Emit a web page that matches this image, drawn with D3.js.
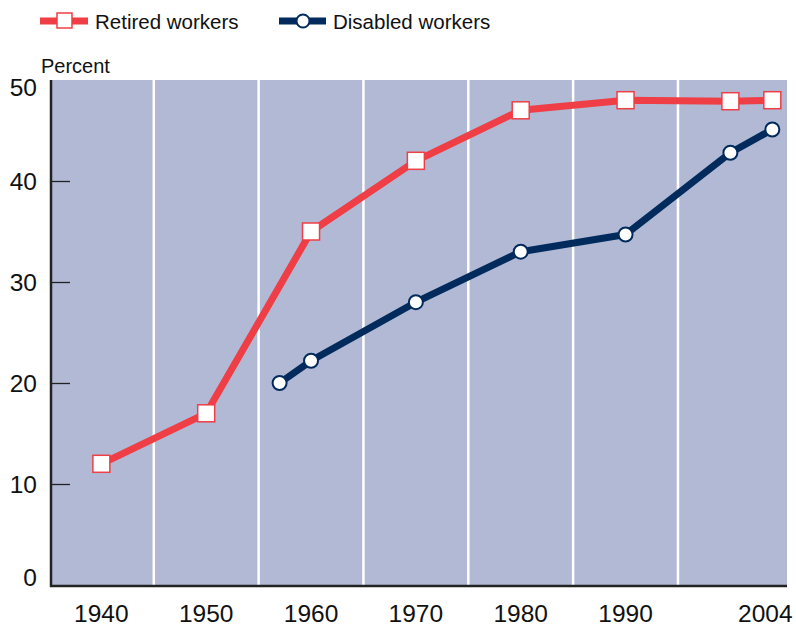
<!DOCTYPE html>
<html>
<head>
<meta charset="utf-8">
<script src="https://cdn.jsdelivr.net/npm/d3@7"></script>
<style>
  body { margin: 0; background: #fff; }
  text { font-family: "Liberation Sans", Arial, Helvetica, sans-serif; fill: #111; }
</style>
</head>
<body>
<script>
// values
var retiredYears = [1940, 1950, 1960, 1970, 1980, 1990, 2000, 2004];
var retiredValues = [12, 17, 35, 42, 47, 48, 47.9, 48];
var disabledYears = [1957, 1960, 1970, 1980, 1990, 2000, 2004];
var disabledValues = [20, 22.2, 28, 33, 34.7, 42.8, 45.1];
var xTickYears = [1940, 1950, 1960, 1970, 1980, 1990, 2004];
var yTicks = [0, 10, 20, 30, 40, 50];
var dividerYears = [1945, 1955, 1965, 1975, 1985, 1995];

var width = 796, height = 626;
var margin = {top: 80, right: 9, bottom: 41, left: 50};

var red = "#ef3e45", navy = "#002b5c", bg = "#b1b9d4";

var svg = d3.select("body").append("svg")
    .attr("width", width)
    .attr("height", height);

// plot spans a bit past the first and last years
var x = d3.scaleLinear()
    .domain([1935.1, 2005.4])
    .range([margin.left, width - margin.right]);

var y = d3.scaleLinear()
    .domain([0, 50])
    .range([height - margin.bottom, margin.top]);

// plot background
svg.append("rect")
    .attr("x", x.range()[0])
    .attr("y", y(50))
    .attr("width", x.range()[1] - x.range()[0])
    .attr("height", y(0) - y(50))
    .attr("fill", bg);

// white dividers between decades
svg.append("g").selectAll("line")
    .data(dividerYears)
  .enter().append("line")
    .attr("x1", function(d) { return x(d); })
    .attr("x2", function(d) { return x(d); })
    .attr("y1", y(50))
    .attr("y2", y(0))
    .attr("stroke", "#fff")
    .attr("stroke-width", 2.5);

// y axis: short inward ticks
var yAxis = svg.append("g")
    .attr("transform", "translate(" + (x.range()[0] + 1) + ",0)")
    .call(d3.axisRight(y).tickValues(yTicks.slice(1, 5)).tickSize(19).tickFormat(""));
yAxis.select(".domain").remove();
yAxis.selectAll(".tick line").attr("stroke", "#222").attr("stroke-width", 1.3);

svg.append("line")
    .attr("x1", x.range()[0] + 1).attr("x2", x.range()[0] + 1)
    .attr("y1", y(50)).attr("y2", y(0) + 2)
    .attr("stroke", "#222").attr("stroke-width", 2.5);

// x axis line
svg.append("line")
    .attr("x1", x.range()[0]).attr("x2", x.range()[1])
    .attr("y1", y(0) + 1).attr("y2", y(0) + 1)
    .attr("stroke", "#222").attr("stroke-width", 2.5);

// y tick labels (0 and 50 nudged inside like the original)
svg.append("g").selectAll("text")
    .data(yTicks)
  .enter().append("text")
    .attr("x", 37)
    .attr("y", function(d) {
      var shift = d === 0 ? -8 : (d === 50 ? 7 : 0);
      return y(d) + shift;
    })
    .attr("dy", "0.35em")
    .attr("text-anchor", "end")
    .style("font-size", "24.5px")
    .text(function(d) { return d; });

svg.append("text")
    .attr("x", 41)
    .attr("y", 73)
    .style("font-size", "20px")
    .text("Percent");

// x tick labels
svg.append("g").selectAll("text")
    .data(xTickYears)
  .enter().append("text")
    .attr("x", function(d) { return d === 2004 ? x(d) - 7 : x(d); })
    .attr("y", 622)
    .attr("text-anchor", "middle")
    .style("font-size", "24.5px")
    .text(function(d) { return d; });

var line = d3.line()
    .x(function(d) { return x(d[0]); })
    .y(function(d) { return y(d[1]); });

var retired = d3.zip(retiredYears, retiredValues);
var disabled = d3.zip(disabledYears, disabledValues);

svg.append("path")
    .datum(retired)
    .attr("d", line)
    .attr("fill", "none")
    .attr("stroke", red)
    .attr("stroke-width", 7)
    .attr("stroke-linejoin", "round");

svg.append("path")
    .datum(disabled)
    .attr("d", line)
    .attr("fill", "none")
    .attr("stroke", navy)
    .attr("stroke-width", 7)
    .attr("stroke-linejoin", "round");

svg.append("g").selectAll("rect")
    .data(retired)
  .enter().append("rect")
    .attr("x", function(d) { return x(d[0]) - 8.5; })
    .attr("y", function(d) { return y(d[1]) - 8.5; })
    .attr("width", 17)
    .attr("height", 17)
    .attr("fill", "#fff")
    .attr("stroke", red)
    .attr("stroke-width", 1.5);

svg.append("g").selectAll("circle")
    .data(disabled)
  .enter().append("circle")
    .attr("cx", function(d) { return x(d[0]); })
    .attr("cy", function(d) { return y(d[1]); })
    .attr("r", 7)
    .attr("fill", "#fff")
    .attr("stroke", navy)
    .attr("stroke-width", 2);

// legend
var legend = svg.append("g");
legend.append("line")
    .attr("x1", 40).attr("x2", 88).attr("y1", 21).attr("y2", 21)
    .attr("stroke", red).attr("stroke-width", 7);
legend.append("rect")
    .attr("x", 57).attr("y", 13).attr("width", 15).attr("height", 15)
    .attr("fill", "#fff").attr("stroke", red).attr("stroke-width", 1.5);
legend.append("text")
    .attr("x", 95).attr("y", 28.5)
    .style("font-size", "20.5px")
    .text("Retired workers");

legend.append("line")
    .attr("x1", 279).attr("x2", 326).attr("y1", 21).attr("y2", 21)
    .attr("stroke", navy).attr("stroke-width", 7);
legend.append("circle")
    .attr("cx", 303).attr("cy", 21).attr("r", 6.5)
    .attr("fill", "#fff").attr("stroke", navy).attr("stroke-width", 2);
legend.append("text")
    .attr("x", 333).attr("y", 28.5)
    .style("font-size", "20.5px")
    .text("Disabled workers");
</script>
</body>
</html>
